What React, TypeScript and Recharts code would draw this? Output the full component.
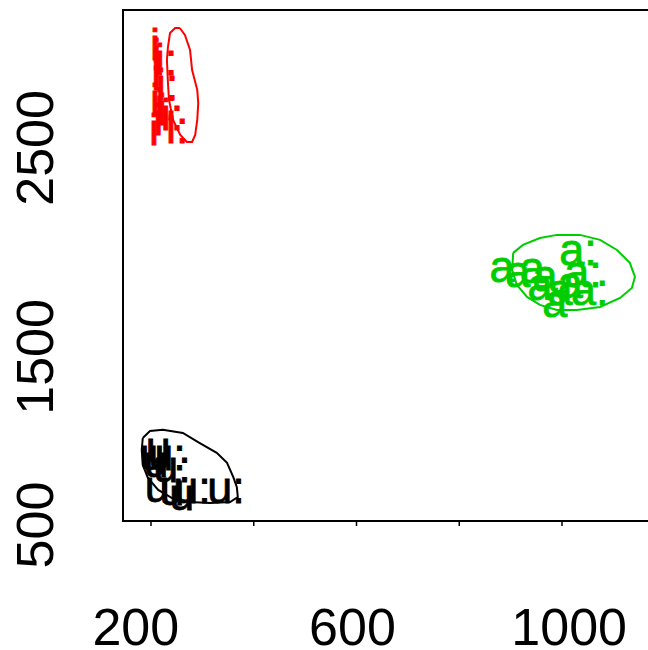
import { ScatterChart, Scatter, XAxis, YAxis, ReferenceArea } from 'recharts';

// vowel tokens: F1 on x, F2 on y
const iTokens = [
  { x: 208, y: 2993, label: 'i' },
  { x: 210, y: 2945, label: 'i' },
  { x: 229, y: 2921, label: 'i:' },
  { x: 210, y: 2849, label: 'i' },
  { x: 231, y: 2802, label: 'i:' },
  { x: 208, y: 2730, label: 'i' },
  { x: 229, y: 2706, label: 'i:' },
  { x: 221, y: 2682, label: 'i' },
  { x: 241, y: 2658, label: 'i:' },
  { x: 214, y: 2634, label: 'i' },
  { x: 251, y: 2596, label: 'i:' },
  { x: 206, y: 2586, label: 'i' },
];

const aTokens = [
  { x: 883, y: 1935, label: 'a' },
  { x: 914, y: 1907, label: 'a' },
  { x: 942, y: 1926, label: 'a' },
  { x: 967, y: 1892, label: 'a' },
  { x: 957, y: 1845, label: 'a' },
  { x: 1031, y: 2012, label: 'a:' },
  { x: 1041, y: 1907, label: 'a:' },
  { x: 1054, y: 1821, label: 'a:' },
  { x: 1016, y: 1854, label: 'a' },
  { x: 996, y: 1821, label: 'a' },
  { x: 986, y: 1763, label: 'a' },
];

const uTokens = [
  { x: 214, y: 1065, label: 'u' },
  { x: 202, y: 1031, label: 'u' },
  { x: 210, y: 998, label: 'u' },
  { x: 231, y: 1031, label: 'u:' },
  { x: 241, y: 978, label: 'u:' },
  { x: 212, y: 878, label: 'u' },
  { x: 241, y: 864, label: 'u' },
  { x: 260, y: 844, label: 'u' },
  { x: 280, y: 873, label: 'u:' },
  { x: 346, y: 873, label: 'u:' },
];

// contour outlines
const iContour = [
  { x: 256, y: 3074 }, { x: 266, y: 3041 }, { x: 276, y: 2969 }, { x: 280, y: 2873 },
  { x: 290, y: 2778 }, { x: 292, y: 2715 }, { x: 290, y: 2634 }, { x: 286, y: 2562 },
  { x: 280, y: 2529 }, { x: 270, y: 2529 }, { x: 257, y: 2562 }, { x: 243, y: 2634 },
  { x: 235, y: 2730 }, { x: 233, y: 2811 }, { x: 231, y: 2921 }, { x: 233, y: 2983 },
  { x: 237, y: 3050 }, { x: 247, y: 3074 }, { x: 256, y: 3074 },
];

const aContour = [
  { x: 905, y: 1998 }, { x: 924, y: 2036 }, { x: 957, y: 2069 }, { x: 990, y: 2084 },
  { x: 1035, y: 2084 }, { x: 1074, y: 2060 }, { x: 1107, y: 2012 }, { x: 1132, y: 1950 },
  { x: 1142, y: 1883 }, { x: 1136, y: 1830 }, { x: 1113, y: 1782 }, { x: 1074, y: 1739 },
  { x: 1029, y: 1725 }, { x: 990, y: 1725 }, { x: 957, y: 1749 }, { x: 932, y: 1787 },
  { x: 912, y: 1845 }, { x: 903, y: 1916 }, { x: 905, y: 1998 },
];

const uContour = [
  { x: 184, y: 1112 }, { x: 198, y: 1146 }, { x: 223, y: 1151 }, { x: 262, y: 1136 },
  { x: 295, y: 1088 }, { x: 328, y: 1041 }, { x: 348, y: 993 }, { x: 360, y: 926 },
  { x: 367, y: 878 }, { x: 369, y: 830 }, { x: 354, y: 806 }, { x: 315, y: 801 },
  { x: 276, y: 806 }, { x: 241, y: 825 }, { x: 214, y: 864 }, { x: 194, y: 921 },
  { x: 184, y: 983 }, { x: 182, y: 1055 }, { x: 184, y: 1112 },
];

const xTicks = [200, 400, 600, 800, 1000];
const xLabels = [200, 600, 1000];
const yTicks = [500, 1500, 2500];

const xDomain = [145.5, 1181];
const yDomain = [715, 3160];

const FONT = '"Liberation Sans", Arial, sans-serif';

function tokenShape(color: string) {
  return (props: any) => (
    <text
      x={props.cx}
      y={props.cy}
      fill={color}
      stroke={color}
      strokeWidth={0.8}
      fontSize={45}
      fontFamily={FONT}
      textAnchor="middle"
      dominantBaseline="central"
    >
      {props.payload.label}
    </text>
  );
}

const noDot = () => <g />;

function XTick({ x, payload }: any) {
  if (!xLabels.includes(payload.value)) return <g />;
  const shift = (payload.value - 600) * 0.028 - 4;
  return (
    <text x={x + shift} y={627} fontSize={52} fontFamily={FONT} textAnchor="middle" dominantBaseline="central" fill="#000">
      {payload.value}
    </text>
  );
}

function YTick({ y, payload }: any) {
  const yy = Math.min(y, 525);
  return (
    <text
      x={35}
      y={yy}
      transform={`rotate(-90, 35, ${yy})`}
      fontSize={52}
      fontFamily={FONT}
      textAnchor="middle"
      dominantBaseline="central"
      fill="#000"
    >
      {payload.value}
    </text>
  );
}

export default function App() {
  return (
    <div style={{ position: 'absolute', left: 0, top: 0, width: 648, height: 650, overflow: 'hidden', background: '#fff' }}>
      <ScatterChart width={660} height={650} margin={{ top: 10, right: 5, left: 63, bottom: 99 }}>
        <XAxis
          type="number"
          dataKey="x"
          domain={xDomain}
          allowDataOverflow
          ticks={xTicks}
          axisLine={false}
          tickLine={{ stroke: '#000', strokeWidth: 1.5 }}
          tickSize={5}
          tick={<XTick />}
          height={30}
        />
        <YAxis
          type="number"
          dataKey="y"
          domain={yDomain}
          allowDataOverflow
          ticks={yTicks}
          axisLine={false}
          tickLine={false}
          tick={<YTick />}
          width={60}
        />
        <ReferenceArea
          x1={xDomain[0]}
          x2={xDomain[1]}
          y1={yDomain[0]}
          y2={yDomain[1]}
          fill="none"
          stroke="#000"
          strokeWidth={2}
          ifOverflow="visible"
        />
        <Scatter data={iContour} line={{ stroke: '#ff0000', strokeWidth: 2 }} shape={noDot} isAnimationActive={false} />
        <Scatter data={aContour} line={{ stroke: '#00cd00', strokeWidth: 2 }} shape={noDot} isAnimationActive={false} />
        <Scatter data={uContour} line={{ stroke: '#000000', strokeWidth: 2 }} shape={noDot} isAnimationActive={false} />
        <Scatter data={iTokens} shape={tokenShape('#ff0000')} isAnimationActive={false} />
        <Scatter data={aTokens} shape={tokenShape('#00cd00')} isAnimationActive={false} />
        <Scatter data={uTokens} shape={tokenShape('#000000')} isAnimationActive={false} />
      </ScatterChart>
    </div>
  );
}
